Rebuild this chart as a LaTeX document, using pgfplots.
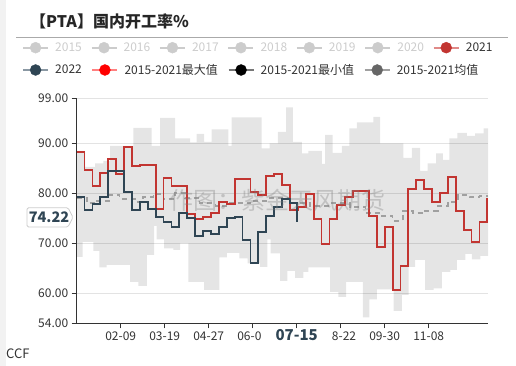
\documentclass[border=0pt]{standalone}
\usepackage{pgfplots}
\pgfplotsset{compat=1.18}
\usepackage{fontspec}
\setmainfont{Noto Sans CJK SC}
\definecolor{c21}{HTML}{C23531}
\definecolor{c21l}{HTML}{E08A88}
\definecolor{c22}{HTML}{2F4554}
\definecolor{c22l}{HTML}{8A98A3}
\definecolor{txt}{HTML}{333333}
\definecolor{dis}{HTML}{CCCCCC}
\definecolor{gridc}{HTML}{E3E3E3}
\definecolor{avgc}{HTML}{A0A0A0}
\definecolor{maxl}{HTML}{FF8080}
\definecolor{minl}{HTML}{777777}
\definecolor{avgl}{HTML}{A0A0A0}
\definecolor{avgm}{HTML}{666666}
\definecolor{rulec}{HTML}{AAAAAA}
\definecolor{stripc}{HTML}{F2F2F2}
\pgfplotsset{
  legimg/.style 2 args={legend image code/.code={
    \draw[line width=2.2pt, draw=#1] (0pt,0pt) -- (25pt,0pt);
    \fill[#2] (12.5pt,0pt) circle (5.5pt);}},
  ovlaxis/.style={at={(0pt,0pt)}, anchor=south west, scale only axis,
    width=516pt, height=366pt, xmin=0, xmax=516, ymin=0, ymax=366,
    hide axis, clip=false, legend cell align=left},
  legrow/.style={legend style={draw=none, fill=none, inner sep=0pt, outer sep=0pt,
    font=\fontsize{12}{14}\selectfont, nodes={inner sep=0pt},
    /tikz/every odd column/.append style={column sep=6pt},
    /tikz/every even column/.append style={column sep=#1}}},
}
\begin{document}
\begin{tikzpicture}
\path (0pt,0pt) rectangle (516pt,366pt);
\begin{axis}[
  at={(76.7pt,42.7pt)}, anchor=south west, scale only axis,
  width=411.3pt, height=225pt,
  xmin=0, xmax=364.56, ymin=54, ymax=99,
  axis lines*=left,
  axis line style={color=txt, line width=0.8pt},
  tick align=outside, major tick length=5pt,
  tick style={color=txt, line width=0.8pt},
  xtick={39,78,117,156,195,234,273,312},
  xticklabels={02-09,03-19,04-27,06-0\phantom{5},,\phantom{0}8-22,09-30,11-08},
  ytick={54,60,70,80,90,99},
  yticklabels={54.00,60.00,70.00,80.00,90.00,99.00},
  ymajorgrids, grid style={color=gridc, line width=0.8pt},
  tick label style={font=\fontsize{12}{14}\selectfont, text=txt},
  /pgf/number format/assume math mode=true,
]
% band: 2015-2021 max (left to right), then 2015-2021 min (right to left)
\addplot[const plot, fill=black, fill opacity=0.1, draw=none] coordinates {
(0,88.5) (7.4,85.3) (16.3,86.0) (23.6,86.5) (29.6,89.5) (50.3,93.1) (66.5,89.5)
(73.9,95.1) (87.2,91.0) (100.5,90.2) (106.4,91.9) (112.9,90.3) (119.7,92.8)
(134.5,89.5) (137.4,95.2) (164,89.0) (171,90.0) (178.3,92.3) (185.6,97.2)
(191.5,90.3) (199.5,88.0) (205.4,88.5) (217.2,85.9) (220.1,91.7) (226.9,88.1)
(235,89.5) (241.7,93.0) (248.3,94.2) (263,95.3) (268.9,90.0) (289.6,87.1)
(297,89.1) (304.4,84.5) (311.1,86.0) (318.5,88.0) (324.5,86.7) (330.4,91.0)
(337.5,92.1) (345.8,91.5) (353.2,92.0) (360.6,93.0) (364.56,93.0)
(364.56,67.5) (357.7,66.8) (350.3,67.9) (344.4,66.7) (337,64.7) (331.1,64.3)
(323.7,61.0) (316.3,60.7) (308.9,66.7) (300,65.3) (294.1,59.7) (288.2,56.5)
(280.8,60.8) (266,58.8) (259.5,55.2) (253.6,62.3) (238.8,59.3) (232,60.3)
(224.6,65.2) (205.4,64.3) (201,63.1) (193.6,64.5) (186.8,62.5) (180.2,68.0)
(171.9,70.8) (169,65.3) (162.5,66.0) (151.6,67.0) (144.2,68.1) (133,67.2)
(126.5,60.7) (112.9,62.3) (99,70.0) (91.6,68.7) (85.7,69.0) (77.4,70.8)
(70.9,73.5) (68.6,67.7) (62.1,61.5) (54.7,62.3) (47.3,65.7) (26.6,65.2)
(20.1,68.5) (14.8,70.3) (5.3,67.3) (0,67.3)} -- cycle;
% 2015-2021 average
\addplot[const plot, color=avgc, line width=1.6pt, dash pattern=on 5pt off 4pt] coordinates {
(0,79.0) (9,78.0) (18,78.5) (29,79.7) (38,78.9) (52,78.3) (59,79.3) (68,79.9)
(77,78.8) (87,80.0) (96,79.0) (109,78.0) (123,77.5) (136,78.0) (154,78.5)
(171,79.0) (189,78.0) (207,77.5) (224,78.0) (242,77.3) (256,76.0) (269,75.5)
(280,74.5) (289,76.5) (298,76.0) (307,76.5) (320,77.5) (329,78.3) (338,79.7)
(348,79.3) (357,79.5) (364.56,79.5)};
% 2021
\addplot[const plot, color=c21, line width=1.8pt] coordinates {
(0,88.3) (7,84.6) (14,81.5) (21,84.1) (28,86.9) (35,83.9) (42,89.2) (49,85.5)
(56,85.7) (63,85.7) (70,76.8) (77,83.1) (84,81.5) (91,81.5) (98,75.9) (105,74.8)
(112,75.2) (119,76.1) (126,78.3) (133,77.8) (140,82.9) (147,82.9) (154,80.2)
(161,79.7) (168,83.5) (175,83.9) (182,81.7) (189,76.6) (196,77.3) (203,79.8)
(210,74.8) (217,69.9) (224,74.9) (231,77.7) (238,79.3) (245,80.5) (252,80.5)
(259,75.5) (266,69.3) (273,73.2) (280,60.7) (287,65.5) (294,80.9) (301,82.6)
(308,80.8) (315,78.2) (322,80.0) (329,83.3) (336,76.5) (343,72.7) (350,70.2)
(357,74.2) (364,79.1)};
% 2022
\addplot[const plot, color=c22, line width=1.8pt] coordinates {
(0,79.3) (7,76.7) (14,77.8) (21,79.3) (28,84.5) (35,84.5) (42,80.3) (49,76.7)
(56,78.3) (63,76.9) (70,75.2) (77,74.2) (84,73.2) (91,76.0) (98,75.0) (105,71.5)
(112,72.5) (119,71.9) (126,73.3) (133,75.0) (140,75.3) (147,70.6) (154,66.0)
(161,72.3) (168,75.5) (175,77.2) (182,78.8) (189,78.0) (195,74.22)};
\end{axis}
% legend row 1 and decorations
\begin{axis}[ovlaxis, legrow=8.6pt, legend columns=7,
  legend style={at={(rel axis cs:0.04264,0.86967)}, anchor=west}]
\addplot[draw=none, forget plot] coordinates {(0,0) (516,366)};
\addlegendimage{legimg={dis}{dis}}\addlegendentry{\textcolor{dis}{2015}}
\addlegendimage{legimg={dis}{dis}}\addlegendentry{\textcolor{dis}{2016}}
\addlegendimage{legimg={dis}{dis}}\addlegendentry{\textcolor{dis}{2017}}
\addlegendimage{legimg={dis}{dis}}\addlegendentry{\textcolor{dis}{2018}}
\addlegendimage{legimg={dis}{dis}}\addlegendentry{\textcolor{dis}{2019}}
\addlegendimage{legimg={dis}{dis}}\addlegendentry{\textcolor{dis}{2020}}
\addlegendimage{legimg={c21l}{c21}}\addlegendentry{\textcolor{txt}{2021}}
\fill[stripc] (0,0) rectangle (5.5,366);
\node[anchor=west, inner sep=0pt, font=\fontsize{16}{18}\selectfont\bfseries, text=black!85] at (30,344.5) {【PTA】国内开工率\%};
\draw[rulec, line width=0.8pt] (16,329) -- (508,329);
\node[anchor=west, inner sep=0pt, font=\fontsize{13}{15}\selectfont, text=txt] at (6,12) {CCF};
\node[font=\fontsize{24}{26}\selectfont, text=gray, opacity=0.35] at (277.5,166) {作图：紫金天风期货};
\node[inner sep=0pt, font=\fontsize{15}{17}\selectfont\bfseries, text=c22] at (296.7,31) {07-15};
\draw[fill=white, draw=dis, line width=0.8pt, rounded corners=1.5pt] (27,158.3) -- (68,158.3) -- (73,148.7) -- (68,139) -- (27,139) -- cycle;
\node[font=\fontsize{14.5}{16}\selectfont\bfseries, text=c22] at (49,148.7) {74.22};
\end{axis}
% legend row 2
\begin{axis}[ovlaxis, legrow=9.5pt, legend columns=4,
  legend style={at={(rel axis cs:0.04264,0.80874)}, anchor=west}]
\addplot[draw=none, forget plot] coordinates {(0,0) (516,366)};
\addlegendimage{legimg={c22l}{c22}}\addlegendentry{\textcolor{txt}{2022}}
\addlegendimage{legimg={maxl}{red}}\addlegendentry{\textcolor{txt}{2015-2021最大值}}
\addlegendimage{legimg={minl}{black}}\addlegendentry{\textcolor{txt}{2015-2021最小值}}
\addlegendimage{legimg={avgl}{avgm}}\addlegendentry{\textcolor{txt}{2015-2021均值}}
\end{axis}
\end{tikzpicture}
\end{document}
